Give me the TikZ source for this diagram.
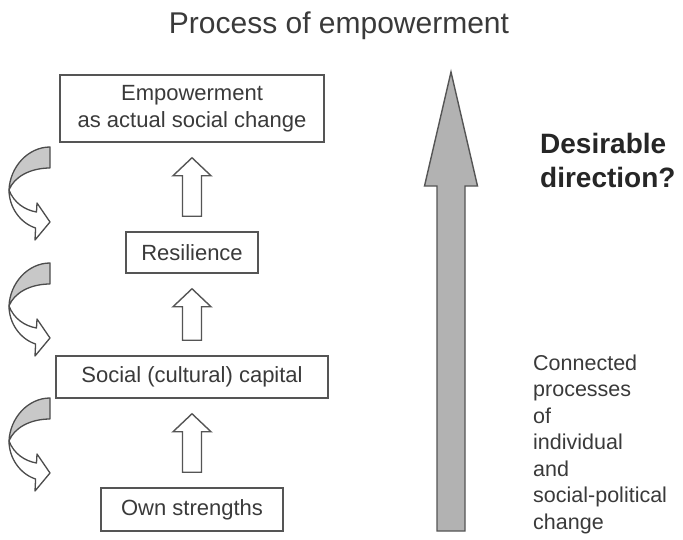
\documentclass[tikz,border=0pt]{standalone}
\usepackage{fontspec}
\setmainfont{Liberation Sans}
\usetikzlibrary{calc}
\definecolor{txt}{HTML}{3A3A3A}
\definecolor{edge}{HTML}{555555}
\definecolor{bigfill}{HTML}{B2B2B2}
\definecolor{curvfill}{HTML}{C8C8C8}
\tikzset{
  box/.style={draw=edge, line width=1.5pt, fill=white, inner sep=0pt, text=txt,
    font=\fontsize{22pt}{27pt}\selectfont, align=center},
  blk/.style={draw=edge, line width=1.4pt, fill=white, line join=miter},
  bigarr/.style={draw=edge, line width=1.4pt, fill=bigfill, line join=miter},
  curv/.style={draw=edge!90!black, line width=1.3pt, line join=round},
  plain/.style={text=txt, inner sep=0pt, align=left}
}
\newcommand\blockarrow[2]{%
  \draw[blk] let \p1=($(#1.north)+(0,-15)$), \p2=($(#2.south)+(0,15)$) in
    (\x1-9.5pt,\y1) -- (\x1-9.5pt,\y2-18pt) -- (\x1-19pt,\y2-18pt) -- (\x1,\y2)
    -- (\x1+19pt,\y2-18pt) -- (\x1+9.5pt,\y2-18pt) -- (\x1+9.5pt,\y1) -- cycle;}
\newcommand\curvedarrow[1]{%
  \begin{scope}[shift={(0,#1)}]
    \draw[curv, fill=curvfill] (50,0) .. controls (28,0) and (10,20) .. (9,43)
      .. controls (14,30) and (30,21) .. (50,21) -- cycle;
    \draw[curv, fill=white] (9,43) .. controls (14,56) and (25,63) .. (36.5,65)
      -- (37,56) -- (50,75) -- (35,93) -- (35.6,81)
      .. controls (20,76) and (9,60) .. (9,43) -- cycle;
  \end{scope}}
\begin{document}
\begin{tikzpicture}[x=1pt, y=-1pt]
  \useasboundingbox (0,0) rectangle (683,539);
  \fill[white] (0,0) rectangle (683,539);

  \node[text=txt, anchor=base, font=\fontsize{30pt}{36pt}\selectfont] (title) at (339,33) {Process of empowerment};

  \node[box, minimum width=264pt, minimum height=67pt] (emp) at (192,108.5) {Empowerment\\as actual social change};
  \node[box, minimum width=132pt, minimum height=41pt] (res) at (192,252.5) {Resilience};
  \node[box, minimum width=272pt, minimum height=42pt] (soc) at (192,377) {Social (cultural) capital};
  \node[box, minimum width=182pt, minimum height=43pt] (own) at (192,509.5) {Own strengths};

  \blockarrow{own}{soc}
  \blockarrow{soc}{res}
  \blockarrow{res}{emp}

  \curvedarrow{147}
  \curvedarrow{263}
  \curvedarrow{398}

  \coordinate (bigtop) at (451,72);
  \coordinate (bigbot) at (451,531);
  \draw[bigarr] let \p1=(bigbot), \p2=(bigtop) in
    (\x1-14pt,\y1) -- (\x1-14pt,\y2-114pt) -- (\x1-26.5pt,\y2-114pt) -- (\x2,\y2)
    -- (\x1+26.5pt,\y2-114pt) -- (\x1+14pt,\y2-114pt) -- (\x1+14pt,\y1) -- cycle;

  \node[plain, anchor=west, text=black!85, font=\fontsize{28pt}{34pt}\selectfont\bfseries] (dir) at (540,160) {Desirable\\direction?};
  \node[plain, anchor=north west, font=\fontsize{21.5pt}{26.5pt}\selectfont] (conn) at (533,354.5) {Connected\\processes\\of\\individual\\and\\social-political\\change};
\end{tikzpicture}
\end{document}
